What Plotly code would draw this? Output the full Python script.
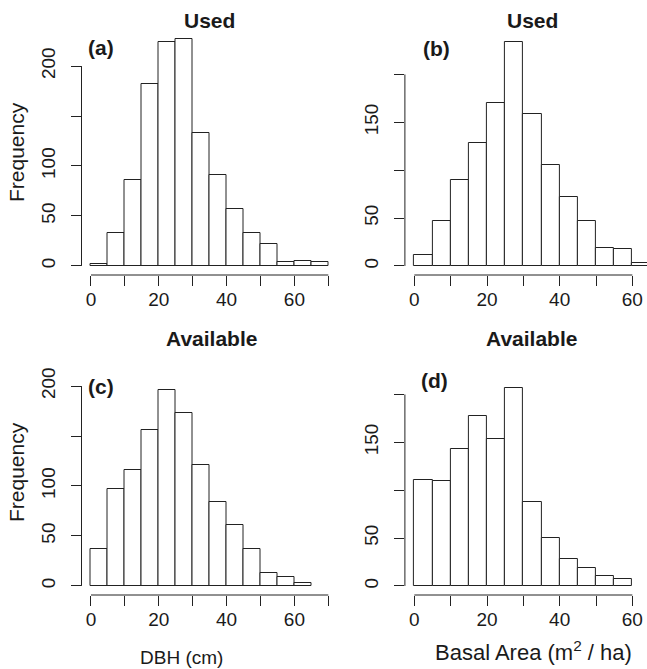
import plotly.graph_objects as go

# ---- data (bin left edges, bin width 5) ----
bin_width = 5
dbh_used_bins = [0, 5, 10, 15, 20, 25, 30, 35, 40, 45, 50, 55, 60, 65]
dbh_used_counts = [2, 33, 86, 182, 224, 227, 133, 91, 57, 33, 22, 4, 5, 4]

ba_used_bins = [0, 5, 10, 15, 20, 25, 30, 35, 40, 45, 50, 55, 60]
ba_used_counts = [11, 47, 90, 128, 170, 234, 159, 105, 72, 47, 19, 18, 3]

dbh_avail_bins = [0, 5, 10, 15, 20, 25, 30, 35, 40, 45, 50, 55, 60]
dbh_avail_counts = [37, 97, 116, 156, 196, 173, 121, 84, 61, 37, 13, 9, 3]

ba_avail_bins = [0, 5, 10, 15, 20, 25, 30, 35, 40, 45, 50, 55]
ba_avail_counts = [111, 110, 143, 178, 154, 207, 88, 50, 28, 19, 10, 7]

x_ticks_dbh = [0, 10, 20, 30, 40, 50, 60, 70]
x_labels_dbh = ["0", "", "20", "", "40", "", "60", ""]
x_ticks_ba = [0, 10, 20, 30, 40, 50, 60]
x_labels_ba = ["0", "", "20", "", "40", "", "60"]
y_ticks = [0, 50, 100, 150, 200]
y_labels_col1 = ["0", "50", "100", "", "200"]
y_labels_col2 = ["0", "50", "", "150", ""]

titles = ["Used", "Used", "Available", "Available"]
panel_tags = ["(a)", "(b)", "(c)", "(d)"]

# ---- layout geometry (pixels) ----
W, H = 647, 669
FONT = "Liberation Sans, Arial, Helvetica, sans-serif"
TXT = "#1a1a1a"
LINE = "#222222"


def px_x(p):
    return p / W


def px_y(p):
    return 1 - p / H


col_dom = [[px_x(81.5), px_x(337.8)], [px_x(404.9), 1.0]]
row_dom = [[px_y(275), px_y(30)], [px_y(595), px_y(350)]]
x_ranges = [[-2.8, 72.8], [-2.6, -2.6 + (W - 404.9) / 3.633]]
y_ranges = [[-0.04 * 227, 1.04 * 227], [-0.04 * 237, 1.04 * 237]]

panels = [
    (dbh_used_bins, dbh_used_counts, 0, 0),
    (ba_used_bins, ba_used_counts, 0, 1),
    (dbh_avail_bins, dbh_avail_counts, 1, 0),
    (ba_avail_bins, ba_avail_counts, 1, 1),
]

fig = go.Figure()
shapes = []
for i, (bins, counts, r, c) in enumerate(panels):
    n = i + 1
    xa = "x" if n == 1 else f"x{n}"
    ya = "y" if n == 1 else f"y{n}"
    fig.add_trace(go.Bar(
        x=[b + bin_width / 2 for b in bins], y=counts, width=bin_width,
        marker=dict(color="white", line=dict(color=LINE, width=1)),
        xaxis=xa, yaxis=ya, showlegend=False, hoverinfo="x+y",
    ))
    xticks = x_ticks_dbh if c == 0 else x_ticks_ba
    xlabels = x_labels_dbh if c == 0 else x_labels_ba
    ylabels = y_labels_col1 if c == 0 else y_labels_col2
    xkey = "xaxis" if n == 1 else f"xaxis{n}"
    ykey = "yaxis" if n == 1 else f"yaxis{n}"
    fig.layout[xkey] = dict(
        domain=col_dom[c], range=x_ranges[c], anchor=ya,
        showgrid=False, zeroline=False, showline=False,
        ticks="outside", ticklen=10, tickcolor=LINE, tickwidth=1,
        tickvals=xticks, ticktext=xlabels, ticklabelstandoff=-3,
        tickfont=dict(family=FONT, size=19, color=TXT),
        fixedrange=True,
    )
    fig.layout[ykey] = dict(
        domain=row_dom[r], range=y_ranges[c], anchor=xa,
        showgrid=False, zeroline=False, showline=False,
        ticks="outside", ticklen=10, tickcolor=LINE, tickwidth=1,
        tickvals=y_ticks, ticktext=ylabels, tickangle=-90,
        ticklabelstandoff=8,
        tickfont=dict(family=FONT, size=19, color=TXT),
        fixedrange=True,
    )
    # axis lines spanning first to last tick (R style)
    shapes.append(dict(type="line", xref=xa, yref=f"{ya} domain",
                       x0=xticks[0], x1=xticks[-1], y0=0, y1=0,
                       line=dict(color=LINE, width=1)))
    shapes.append(dict(type="line", xref=f"{xa} domain", yref=ya,
                       x0=0, x1=0, y0=y_ticks[0], y1=y_ticks[-1],
                       line=dict(color=LINE, width=1)))

annotations = []
title_pos = [(209.6, 20), (532.4, 20), (211.7, 338), (531.7, 338)]
tag_pos = [(101, 47.5), (436, 49), (101, 386), (435, 380)]
for i in range(4):
    annotations.append(dict(
        text=f"<b>{titles[i]}</b>", x=px_x(title_pos[i][0]), y=px_y(title_pos[i][1]),
        xref="paper", yref="paper", showarrow=False, xanchor="center", yanchor="middle",
        font=dict(family=FONT, size=21, color=TXT)))
    annotations.append(dict(
        text=f"<b>{panel_tags[i]}</b>", x=px_x(tag_pos[i][0]), y=px_y(tag_pos[i][1]),
        xref="paper", yref="paper", showarrow=False, xanchor="center", yanchor="middle",
        font=dict(family=FONT, size=21, color=TXT)))

for yc in (152.5, 472.5):
    annotations.append(dict(
        text="Frequency", x=px_x(16.5), y=px_y(yc), xref="paper", yref="paper",
        showarrow=False, textangle=-90, xanchor="center", yanchor="middle",
        font=dict(family=FONT, size=21, color=TXT)))

annotations.append(dict(
    text="DBH (cm)", x=px_x(181), y=px_y(657), xref="paper", yref="paper",
    showarrow=False, xanchor="center", yanchor="middle",
    font=dict(family=FONT, size=19, color=TXT)))
annotations.append(dict(
    text="Basal Area (m<sup>2</sup> / ha)", x=px_x(533), y=px_y(651), xref="paper", yref="paper",
    showarrow=False, xanchor="center", yanchor="middle",
    font=dict(family=FONT, size=22, color=TXT)))

fig.update_layout(
    width=W, height=H, autosize=False,
    margin=dict(l=0, r=0, t=0, b=0),
    paper_bgcolor="white", plot_bgcolor="white",
    bargap=0, shapes=shapes, annotations=annotations,
)

fig.write_html(
    "out.html",
    config={"displayModeBar": False},
    post_script="document.body.style.margin='0';document.body.style.padding='0';"
                "document.body.style.overflow='hidden';",
)
